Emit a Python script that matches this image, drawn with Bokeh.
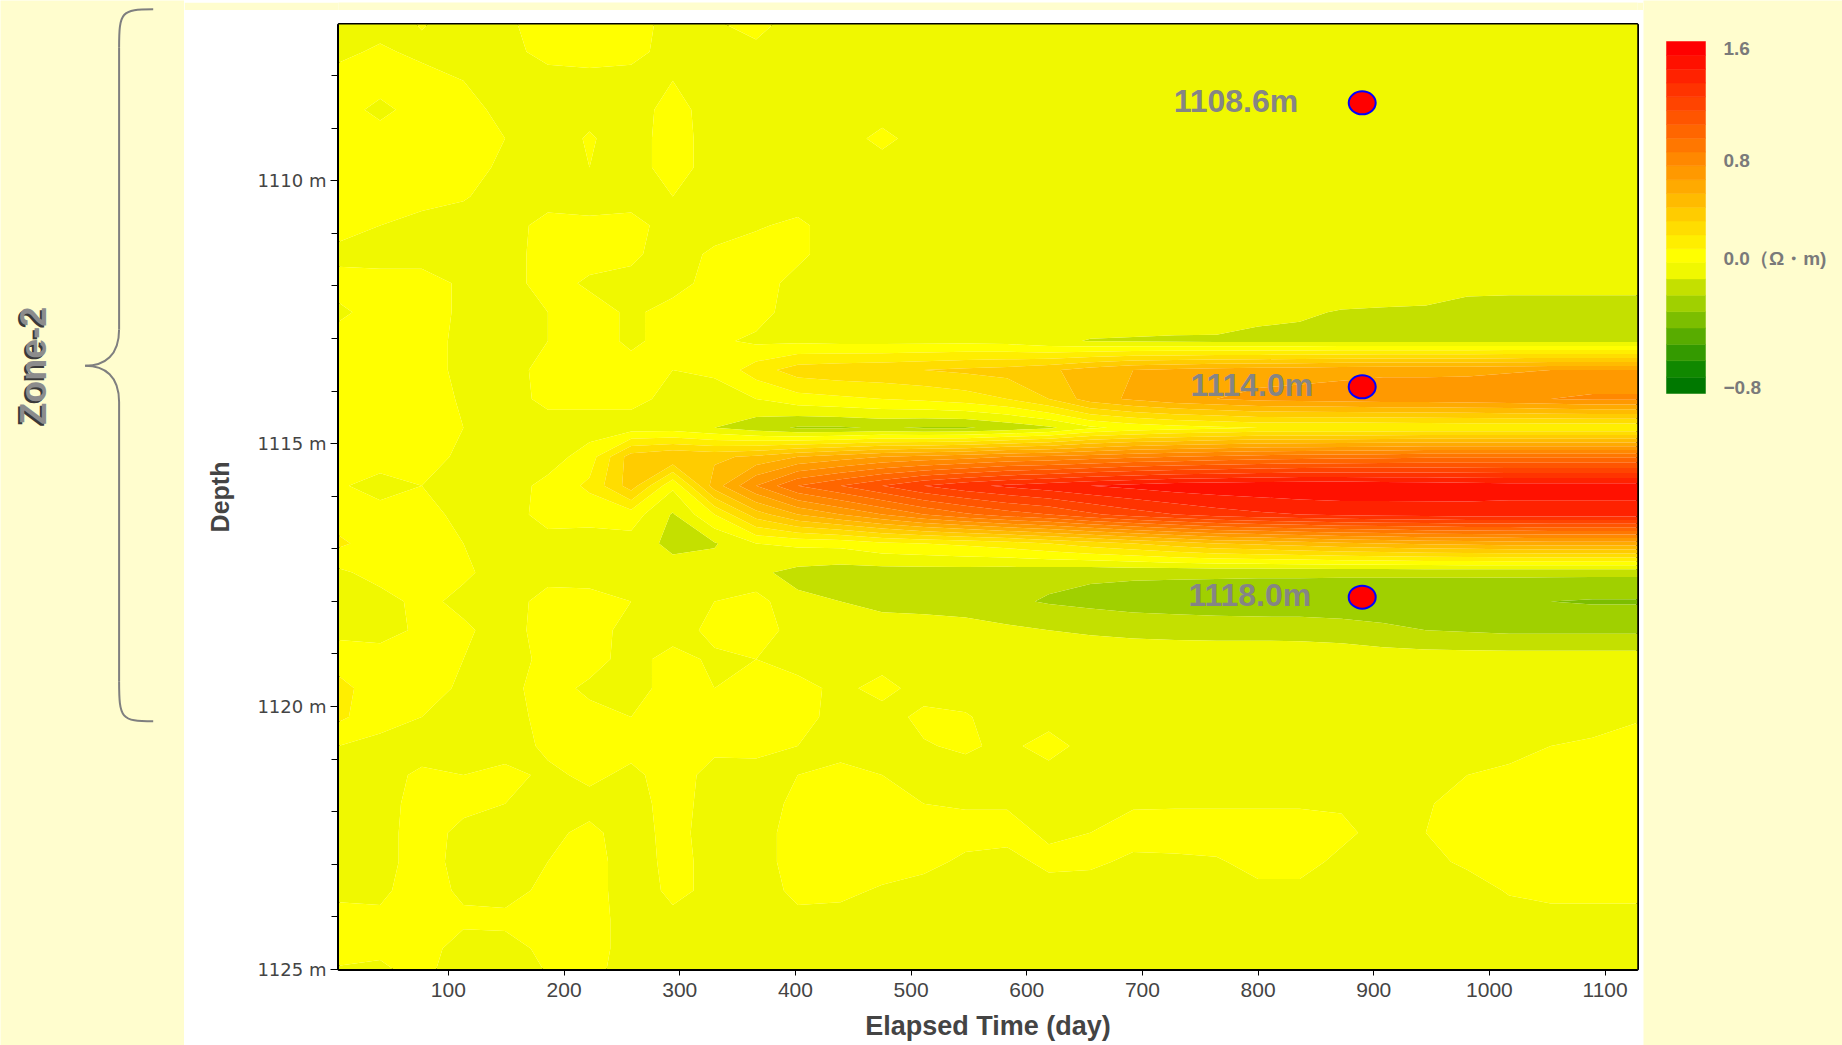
import math
import numpy as np
from bokeh.plotting import figure
from bokeh.layouts import row, column
from bokeh.models import Range1d, FixedTicker, PrintfTickFormatter, ColumnDataSource
from bokeh.core.properties import value
from bokeh.embed import file_html
from bokeh.resources import INLINE

# ---------------- data ----------------
times = [5, 41, 77, 113, 149, 186, 222, 258, 294, 330, 366, 402, 439, 475, 511, 547,
         583, 619, 655, 692, 728, 764, 800, 836, 872, 908, 945, 981, 1017, 1053, 1089, 1128]
depths = [1107.0, 1107.55, 1108.1, 1108.65, 1109.2, 1109.75, 1110.3, 1110.85, 1111.4,
          1111.95, 1112.5, 1113.05, 1113.6, 1114.15, 1114.7, 1115.25, 1115.8, 1116.35,
          1116.9, 1117.45, 1118.0, 1118.55, 1119.1, 1119.65, 1120.2, 1120.75, 1121.3,
          1121.85, 1122.4, 1122.95, 1123.5, 1124.05, 1124.6, 1125.15]
g = -0.05
w = 0.05
resistivity_change = [
    [g, g, 0.01, g, -0.02, w, w, w, -0.04, -0.01, 0.04, g, g, g, g, g, g, g, g, g, g, g, g, g, g, g, g, g, g, g, g, g],
    [-0.03, 0.02, -0.03, g, -0.04, 0.04, w, 0.04, g, g, -0.03, g, g, g, g, g, g, g, g, g, g, g, g, g, g, g, g, g, g, g, g, g],
    [w, w, w, 0.0, g, g, -0.04, g, 0.0, g, g, g, g, g, g, g, g, g, g, g, g, g, g, g, g, g, g, g, g, g, g, g],
    [w, -0.03, w, w, -0.04, g, -0.03, g, 0.04, g, g, g, g, g, g, g, g, g, g, g, g, g, g, g, g, g, g, g, g, g, g, g],
    [w, w, w, w, 0.0, g, 0.01, g, w, g, g, g, g, 0.03, g, g, g, g, g, g, g, g, g, g, g, g, g, g, g, g, g, g],
    [w, w, w, 0.04, -0.02, g, 0.0, g, w, g, g, g, g, g, g, g, g, g, g, g, g, g, g, g, g, g, g, g, g, g, g, g],
    [w, w, 0.04, 0.01, g, g, -0.04, g, 0.0, g, g, g, g, g, g, g, g, g, g, g, g, g, g, g, g, g, g, g, g, g, g, g],
    [0.04, 0.0, -0.04, g, g, 0.04, 0.02, 0.04, g, g, -0.01, 0.02, g, g, g, g, g, g, g, g, g, g, g, g, g, g, g, g, g, g, g, g],
    [-0.03, g, g, g, g, w, w, 0.02, g, 0.02, 0.04, 0.02, g, g, g, g, g, g, g, g, g, g, g, g, g, g, g, g, g, g, g, g],
    [0.04, w, w, -0.02, g, w, -0.02, -0.03, -0.04, 0.04, 0.04, -0.03, g, g, g, g, g, g, g, g, g, g, g, g, g, g, g, g, g, g, g, g],
    [-0.02, 0.04, w, -0.02, g, 0.0, w, -0.02, 0.04, 0.01, 0.04, g, g, g, g, g, g, g,
     -0.04, -0.04, -0.04, -0.03, -0.08, -0.09, -0.105, -0.11, -0.115, -0.16, -0.17, -0.17, -0.17, -0.17],
    [0.04, w, w, -0.03, 0.0, 0.0, w, -0.02, 0.04, 0.02, -0.02, -0.02, -0.03, -0.03, -0.03, -0.03, -0.04, -0.08,
     -0.105, -0.11, -0.115, -0.12, -0.12, -0.12, -0.12, -0.12, -0.12, -0.12, -0.12, -0.12, -0.12, -0.12],
    [w, w, w, -0.03, g, 0.04, w, 0.04, 0.0, 0.02, 0.15, 0.25, 0.27, 0.28, 0.3, 0.32,
     0.34, 0.38, 0.45, 0.5, 0.52, 0.54, 0.55, 0.56, 0.57, 0.58, 0.58, 0.58, 0.59, 0.6, 0.6, 0.6],
    [0.04, 0.04, 0.04, -0.01, g, 0.03, 0.03, 0.03, -0.03, g, 0.0, 0.06, 0.08, 0.1, 0.12, 0.15,
     0.2, 0.3, 0.45, 0.52, 0.57, 0.6, 0.63, 0.64, 0.65, 0.66, 0.66, 0.67, 0.68, 0.7, 0.72, 0.72],
    [0.04, 0.04, 0.04, 0.0, g, g, g, g, g, -0.1, -0.16, -0.21, -0.21, -0.19, -0.21, -0.21,
     -0.17, -0.12, -0.02, 0.03, 0.06, 0.08, 0.1, 0.1, 0.1, 0.1, 0.11, 0.11, 0.11, 0.11, 0.11, 0.11],
    [0.04, 0.04, 0.04, -0.02, g, g, 0.05, 0.35, 0.4, 0.38, 0.42, 0.5, 0.55, 0.6, 0.63, 0.66,
     0.7, 0.72, 0.75, 0.78, 0.8, 0.82, 0.84, 0.85, 0.86, 0.87, 0.88, 0.88, 0.88, 0.88, 0.88, 0.88],
    [0.01, -0.03, 0.0, -0.04, g, 0.03, 0.12, 0.35, 0.02, 0.45, 0.7, 0.9, 1.0, 1.1, 1.2, 1.27,
     1.32, 1.36, 1.4, 1.43, 1.46, 1.47, 1.48, 1.49, 1.49, 1.48, 1.47, 1.46, 1.45, 1.45, 1.45, 1.45],
    [w, 0.03, w, -0.04, g, 0.04, 0.04, w, -0.11, 0.1, 0.35, 0.5, 0.6, 0.7, 0.8, 0.88,
     0.95, 1.0, 1.08, 1.15, 1.2, 1.25, 1.28, 1.3, 1.32, 1.33, 1.34, 1.35, 1.35, 1.35, 1.35, 1.35],
    [0.12, w, w, 0.0, g, -0.04, g, -0.04, -0.13, -0.11, 0.0, 0.02, 0.03, 0.08, 0.1, 0.12,
     0.15, 0.2, 0.25, 0.3, 0.35, 0.4, 0.42, 0.45, 0.48, 0.5, 0.52, 0.53, 0.54, 0.55, 0.55, 0.55],
    [-0.02, 0.04, w, 0.02, g, -0.04, g, g, g, g, -0.08, -0.13, -0.15, -0.15, -0.15, -0.15,
     -0.16, -0.17, -0.18, -0.18, -0.18, -0.18, -0.18, -0.18, -0.18, -0.18, -0.18, -0.18, -0.18, -0.18, -0.18, -0.18],
    [-0.04, -0.04, 0.03, -0.03, g, 0.04, 0.04, 0.0, g, 0.0, 0.04, -0.08, -0.1, -0.13, -0.14, -0.15,
     -0.18, -0.21, -0.23, -0.25, -0.26, -0.27, -0.28, -0.28, -0.29, -0.29, -0.29, -0.29, -0.295, -0.3, -0.31, -0.31],
    [-0.03, -0.04, 0.02, 0.02, g, w, w, -0.04, g, 0.03, w, -0.04, g, g, g, -0.06,
     -0.08, -0.1, -0.11, -0.12, -0.125, -0.128, -0.128, -0.13, -0.14, -0.17, -0.2, -0.21, -0.22, -0.22, -0.22, -0.22],
    [0.06, w, w, 0.0, g, 0.03, 0.04, -0.04, 0.04, -0.02, 0.0, g, g, g, g, g, g, g, g, g, g, g, g, g, g, g, g, g, g, g, g, g],
    [0.13, w, w, -0.02, -0.03, 0.04, -0.02, -0.03, 0.03, 0.0, w, 0.04, -0.03, 0.04, g, g, g, g, g, g, g, g, g, g, g, g, g, g, g, g, g, g],
    [0.12, 0.04, 0.0, g, g, 0.04, 0.03, 0.0, 0.04, 0.03, w, 0.04, -0.04, g, 0.03, 0.01, g, g, g, g, g, g, g, g, g, g, g, g, g, g, g, -0.01],
    [0.0, -0.03, g, g, g, 0.02, 0.04, 0.03, 0.04, 0.02, 0.03, 0.0, -0.04, g, -0.01, 0.02, -0.03, w, g, g, g, g, g, g, g, g, g, g, g, 0.0, 0.02, 0.04],
    [-0.03, -0.04, 0.02, 0.0, 0.03, -0.02, 0.02, -0.02, 0.04, -0.03, -0.04, 0.0, 0.03, 0.0, g, g, g, g, g, g, g, g, g, g, g, g, g, 0.0, 0.03, w, w, w],
    [g, g, w, 0.03, 0.0, -0.04, -0.03, -0.04, 0.04, -0.04, -0.04, 0.02, 0.04, 0.04, 0.0, -0.01,
     -0.01, -0.01, -0.01, -0.01, -0.01, -0.01, -0.01, -0.01, -0.01, -0.01, -0.01, 0.04, w, w, w, w],
    [-0.04, -0.04, w, -0.03, g, -0.02, 0.02, -0.04, 0.03, -0.04, -0.03, 0.03, 0.04, w, 0.03, 0.04,
     0.04, -0.02, 0.0, 0.04, w, w, w, w, 0.02, -0.03, 0.0, w, w, w, w, w],
    [-0.04, -0.04, w, -0.04, g, 0.0, 0.04, g, 0.03, -0.03, -0.03, 0.03, 0.03, 0.04, 0.03, -0.02,
     -0.04, 0.03, 0.02, -0.02, -0.02, -0.01, 0.03, 0.03, -0.02, g, -0.03, 0.02, w, w, w, w],
    [-0.02, -0.02, w, -0.02, -0.03, 0.02, 0.04, g, 0.02, -0.02, -0.04, 0.02, 0.02, -0.01, -0.04, g,
     g, g, g, g, g, g, -0.02, -0.02, g, g, g, g, 0.01, 0.04, 0.04, 0.04],
    [0.03, 0.02, w, 0.02, 0.02, 0.03, 0.04, -0.04, -0.02, -0.04, g, -0.02, -0.03, g, g, g, g, g, g, g, g, g, g, g, g, g, g, g, g, g, g, g],
    [0.03, 0.02, 0.04, -0.04, -0.03, 0.02, 0.04, -0.04, -0.03, g, g, g, g, g, g, g, g, g, g, g, g, g, g, g, g, g, g, g, g, g, g, g],
    [-0.02, -0.03, 0.02, g, g, 0.0, 0.03, g, g, g, g, g, g, g, g, g, g, g, g, g, g, g, g, g, g, g, g, g, g, g, g, g],
]
assert len(resistivity_change) == len(depths)
for _r in resistivity_change:
    assert len(_r) == len(times), len(_r)

levels = [-0.8, -0.7, -0.6, -0.5, -0.4, -0.3, -0.2, -0.1, 0.0, 0.1, 0.2, 0.3, 0.4, 0.5,
          0.6, 0.7, 0.8, 0.9, 1.0, 1.1, 1.2, 1.3, 1.4, 1.5, 1.6]
palette = ["#007800", "#108800", "#349A00", "#58AC00", "#7CBE00", "#A0D000", "#C4E000", "#F0F800",
           "#FFFF00", "#FFEE00", "#FFDD00", "#FFCC00", "#FFBB00", "#FFAA00", "#FF9900", "#FF8800",
           "#FF7700", "#FF6600", "#FF5500", "#FF4400", "#FF3300", "#FF2200", "#FF1100", "#FF0000"]

marker_time = [890, 890, 890]
marker_depth = [1108.52, 1113.92, 1117.92]
marker_label = ["1108.6m", "1114.0m", "1118.0m"]

x_ticks = [100, 200, 300, 400, 500, 600, 700, 800, 900, 1000, 1100]
y_ticks = [1110, 1115, 1120, 1125]
y_minor = [1108, 1109, 1111, 1112, 1113, 1114, 1116, 1117, 1118, 1119, 1121, 1122, 1123, 1124]

cbar_values = [1.6, 0.8, 0.0, -0.8]
cbar_labels = ["1.6", "0.8", "0.0（Ω・m)", "−0.8"]

zone_top, zone_tip, zone_bottom = 1106.74, 1113.52, 1120.28

# ---------------- layout constants ----------------
BG = "#FFFDCE"
H = 1045
STRIP = 10
TOP_B, BOT_B = 24, 76
Y_TOP, Y_BOT = 1107.03, 1125.0
PX_PER_M = (H - TOP_B - BOT_B) / (Y_BOT - Y_TOP)

# ---------------- main plot ----------------
strip = figure(width=1459, height=STRIP, output_backend="svg", toolbar_location=None, min_border=0,
               x_axis_location=None, y_axis_location=None, background_fill_color=BG,
               border_fill_color=BG, outline_line_color=None)
strip.grid.visible = False

p = figure(width=1459, height=H - STRIP, x_range=Range1d(5, 1128), y_range=Range1d(Y_BOT, Y_TOP),
           output_backend="svg", toolbar_location=None,
           min_border_left=154, min_border_right=6, min_border_top=TOP_B - STRIP, min_border_bottom=BOT_B,
           background_fill_color="white", border_fill_color="white")
p.grid.visible = False
p.outline_line_color = "black"
p.outline_line_width = 3

p.contour(x=times, y=depths, z=np.array(resistivity_change), levels=levels, fill_color=palette)

p.ellipse(x=marker_time, y=marker_depth, width=27, height=23, width_units="screen",
          height_units="screen", fill_color="#FF0000", line_color="#0000FF", line_width=2)
src = ColumnDataSource(dict(x=marker_time, y=marker_depth, t=marker_label, xo=[-64, -49, -51]))
p.text(x="x", y="y", text="t", x_offset="xo", y_offset=-2, source=src, text_align="right",
       text_baseline="middle", text_font=value("Liberation Sans"), text_font_style="bold",
       text_font_size="32px", text_color="#858585")

xa = p.xaxis[0]
xa.ticker = FixedTicker(ticks=x_ticks, minor_ticks=[])
xa.axis_label = "Elapsed Time (day)"
xa.axis_label_text_font = "Liberation Sans"
xa.axis_label_text_font_style = "bold"
xa.axis_label_text_font_size = "27px"
xa.axis_label_standoff = 11
xa.major_label_text_font = "Liberation Sans"
xa.major_label_text_font_size = "21px"
xa.major_label_standoff = 7
xa.major_tick_out = 6
xa.major_tick_in = 0
xa.axis_line_color = "black"

ya = p.yaxis[0]
ya.ticker = FixedTicker(ticks=y_ticks, minor_ticks=y_minor)
ya.formatter = PrintfTickFormatter(format="%d m")
ya.axis_label = "Depth"
ya.axis_label_text_font = "Liberation Sans"
ya.axis_label_text_font_style = "bold"
ya.axis_label_text_font_size = "25px"
ya.axis_label_standoff = 20
ya.major_label_text_font = "DejaVu Sans"
ya.major_label_text_font_size = "18px"
ya.major_label_standoff = 4
ya.major_tick_out = 8
ya.major_tick_in = 0
ya.minor_tick_out = 7
ya.minor_tick_in = 0
ya.axis_line_color = "black"

# ---------------- left panel: Zone-2 brace ----------------
lp = figure(width=184, height=H, x_range=Range1d(0, 184),
            y_range=Range1d(Y_BOT + BOT_B / PX_PER_M, Y_TOP - TOP_B / PX_PER_M),
            output_backend="svg", toolbar_location=None, min_border=0,
            x_axis_location=None, y_axis_location=None,
            background_fill_color=BG, border_fill_color=BG, outline_line_color=None)
lp.grid.visible = False
xe, xv, xt = 152.7, 118.6, 84.6
bc = "#7F7F7F"
lp.bezier(x0=[xe, xv, xv, xv], y0=[zone_top, zone_tip - 0.69, zone_tip + 0.69, zone_bottom - 0.76],
          x1=[xv, xt, xt, xe], y1=[zone_top + 0.73, zone_tip, zone_tip, zone_bottom],
          cx0=[xv + 2, xv, xv, xv], cy0=[zone_top, zone_tip - 0.2, zone_tip + 0.2, zone_bottom - 0.05],
          cx1=[xv, xv - 14, xv - 14, xv + 2], cy1=[zone_top + 0.05, zone_tip, zone_tip, zone_bottom],
          line_color=bc, line_width=2)
lp.segment(x0=[xv, xv], y0=[zone_top + 0.73, zone_tip + 0.69], x1=[xv, xv],
           y1=[zone_tip - 0.69, zone_bottom - 0.76], line_color=bc, line_width=2)
lp.text(x=[33], y=[zone_tip], text=["Zone-2"], angle=math.pi / 2, x_offset=-2, y_offset=2,
        text_align="center", text_baseline="middle", text_font=value("Liberation Sans"),
        text_font_style="bold", text_font_size="36px", text_color="#3A3A3A")
lp.text(x=[33], y=[zone_tip], text=["Zone-2"], angle=math.pi / 2,
        text_align="center", text_baseline="middle", text_font=value("Liberation Sans"),
        text_font_style="bold", text_font_size="36px", text_color="#8C8C8C")

# ---------------- right panel: colour bar ----------------
rp = figure(width=199, height=H, x_range=Range1d(0, 199), y_range=Range1d(H, 0),
            output_backend="svg", toolbar_location=None, min_border=0,
            x_axis_location=None, y_axis_location=None,
            background_fill_color=BG, border_fill_color=BG, outline_line_color=None)
rp.grid.visible = False


def cpos(v):
    if v >= 0:
        return 262 - v * (262 - 41) / 1.6
    return 262 + (-v) * (393 - 262) / 0.8


rp.quad(left=23, right=62, bottom=[cpos(v) for v in levels[:-1]], top=[cpos(v) for v in levels[1:]],
        fill_color=palette, line_color=palette, line_width=0.5)
rp.text(x=80, y=[cpos(v) for v in cbar_values], text=cbar_labels, y_offset=[7, 8, -4, -6],
        text_align="left", text_baseline="middle", text_font=value("Liberation Sans"),
        text_font_style="bold", text_font_size="19px", text_color="#7A7A7A")

layout = row(lp, column(strip, p), rp)
open("out.html", "w").write(file_html(layout, INLINE))
